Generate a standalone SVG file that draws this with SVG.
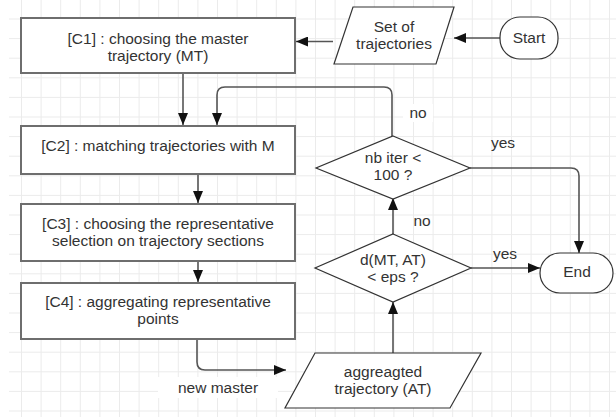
<svg xmlns="http://www.w3.org/2000/svg" width="616" height="417" viewBox="0 0 616 417">
<defs>
<pattern id="grid" x="21" y="18.5" width="19.6" height="19.6" patternUnits="userSpaceOnUse">
<path d="M0 0 H19.6 M0 0 V19.6" fill="none" stroke="#ebebeb" stroke-width="2"/>
</pattern>
<marker id="ah" viewBox="0 0 12 10" refX="12" refY="5" markerWidth="12" markerHeight="10" markerUnits="userSpaceOnUse" orient="auto">
<path d="M0 0 L12 5 L0 10 Z" fill="#111"/>
</marker>
</defs>
<style>
.box{fill:#fff;stroke:#6e6e6e;stroke-width:2}
.shp{fill:#fff;stroke:#333;stroke-width:1.2}
.t{font-family:"Liberation Sans",Arial,sans-serif;font-size:15.5px;fill:#333;text-anchor:middle}
.c{fill:none;stroke:#555;stroke-width:1.6}
.lbl{fill:#fff}
</style>
<rect width="616" height="417" fill="#fff"/>
<rect x="9" y="0" width="607" height="417" fill="url(#grid)"/>
<rect x="0" y="0" width="21" height="8" fill="#fff"/>
<g id="connectors">
<path class="c" d="M500 38 H454" marker-end="url(#ah)"/>
<path class="c" d="M333 41.5 H296" marker-end="url(#ah)"/>
<path class="c" d="M183 74 V125" marker-end="url(#ah)"/>
<path class="c" d="M392 136 V95 Q392 87 384 87 H225 Q217 87 217 95 V125" marker-end="url(#ah)"/>
<path class="c" d="M198 175 V203" marker-end="url(#ah)"/>
<path class="c" d="M198 262 V282" marker-end="url(#ah)"/>
<path class="c" d="M197 340 V362 Q197 370 205 370 H286" marker-end="url(#ah)"/>
<path class="c" d="M393 353 V302" marker-end="url(#ah)"/>
<path class="c" d="M393 234 V198" marker-end="url(#ah)"/>
<path class="c" d="M470 168 H571 Q579 168 579 176 V253" marker-end="url(#ah)"/>
<path class="c" d="M471 268 H540" marker-end="url(#ah)"/>
<rect class="lbl" x="403" y="104" width="30" height="18"/>
<text class="t" x="418" y="118">no</text>
<text class="t" x="503" y="148">yes</text>
<text class="t" x="422" y="226">no</text>
<text class="t" x="505" y="259">yes</text>
<rect class="lbl" x="158" y="377" width="120" height="21"/>
<text class="t" x="218" y="393">new master</text>
</g>
<g id="start">
<rect class="shp" x="500" y="17" width="58" height="42" rx="20" ry="20"/>
<text class="t" x="529" y="43">Start</text>
</g>
<g id="set">
<polygon class="shp" points="353,7 454,7 436,64 334,64"/>
<text class="t" x="394" y="32">Set of</text>
<text class="t" x="394" y="49">trajectories</text>
</g>
<g id="c1">
<rect class="box" x="21" y="18" width="274" height="55"/>
<text class="t" x="158" y="44">[C1] : choosing the master</text>
<text class="t" x="158" y="61">trajectory (MT)</text>
</g>
<g id="c2">
<rect class="box" x="21" y="126" width="274" height="48"/>
<text class="t" x="158" y="151">[C2] : matching trajectories with M</text>
</g>
<g id="c3">
<rect class="box" x="21" y="204" width="274" height="57"/>
<text class="t" x="158" y="229">[C3] : choosing the representative</text>
<text class="t" x="158" y="246">selection on trajectory sections</text>
</g>
<g id="c4">
<rect class="box" x="21" y="283" width="274" height="56"/>
<text class="t" x="158" y="307">[C4] : aggregating representative</text>
<text class="t" x="158" y="324">points</text>
</g>
<g id="iter">
<polygon class="shp" points="393,136 470,168 393,199 316,168"/>
<text class="t" x="393" y="163">nb iter &lt;</text>
<text class="t" x="393" y="180">100 ?</text>
</g>
<g id="dist">
<polygon class="shp" points="393,234 471,268 393,302 315,268"/>
<text class="t" x="393" y="265">d(MT, AT)</text>
<text class="t" x="393" y="282">&lt; eps ?</text>
</g>
<g id="agg">
<polygon class="shp" points="315,353 481,353 450,408 285,408"/>
<text class="t" x="383" y="377">aggreagted</text>
<text class="t" x="383" y="394">trajectory (AT)</text>
</g>
<g id="end">
<rect class="shp" x="540" y="253" width="73" height="40" rx="20" ry="20"/>
<text class="t" x="577" y="277">End</text>
</g>
</svg>
